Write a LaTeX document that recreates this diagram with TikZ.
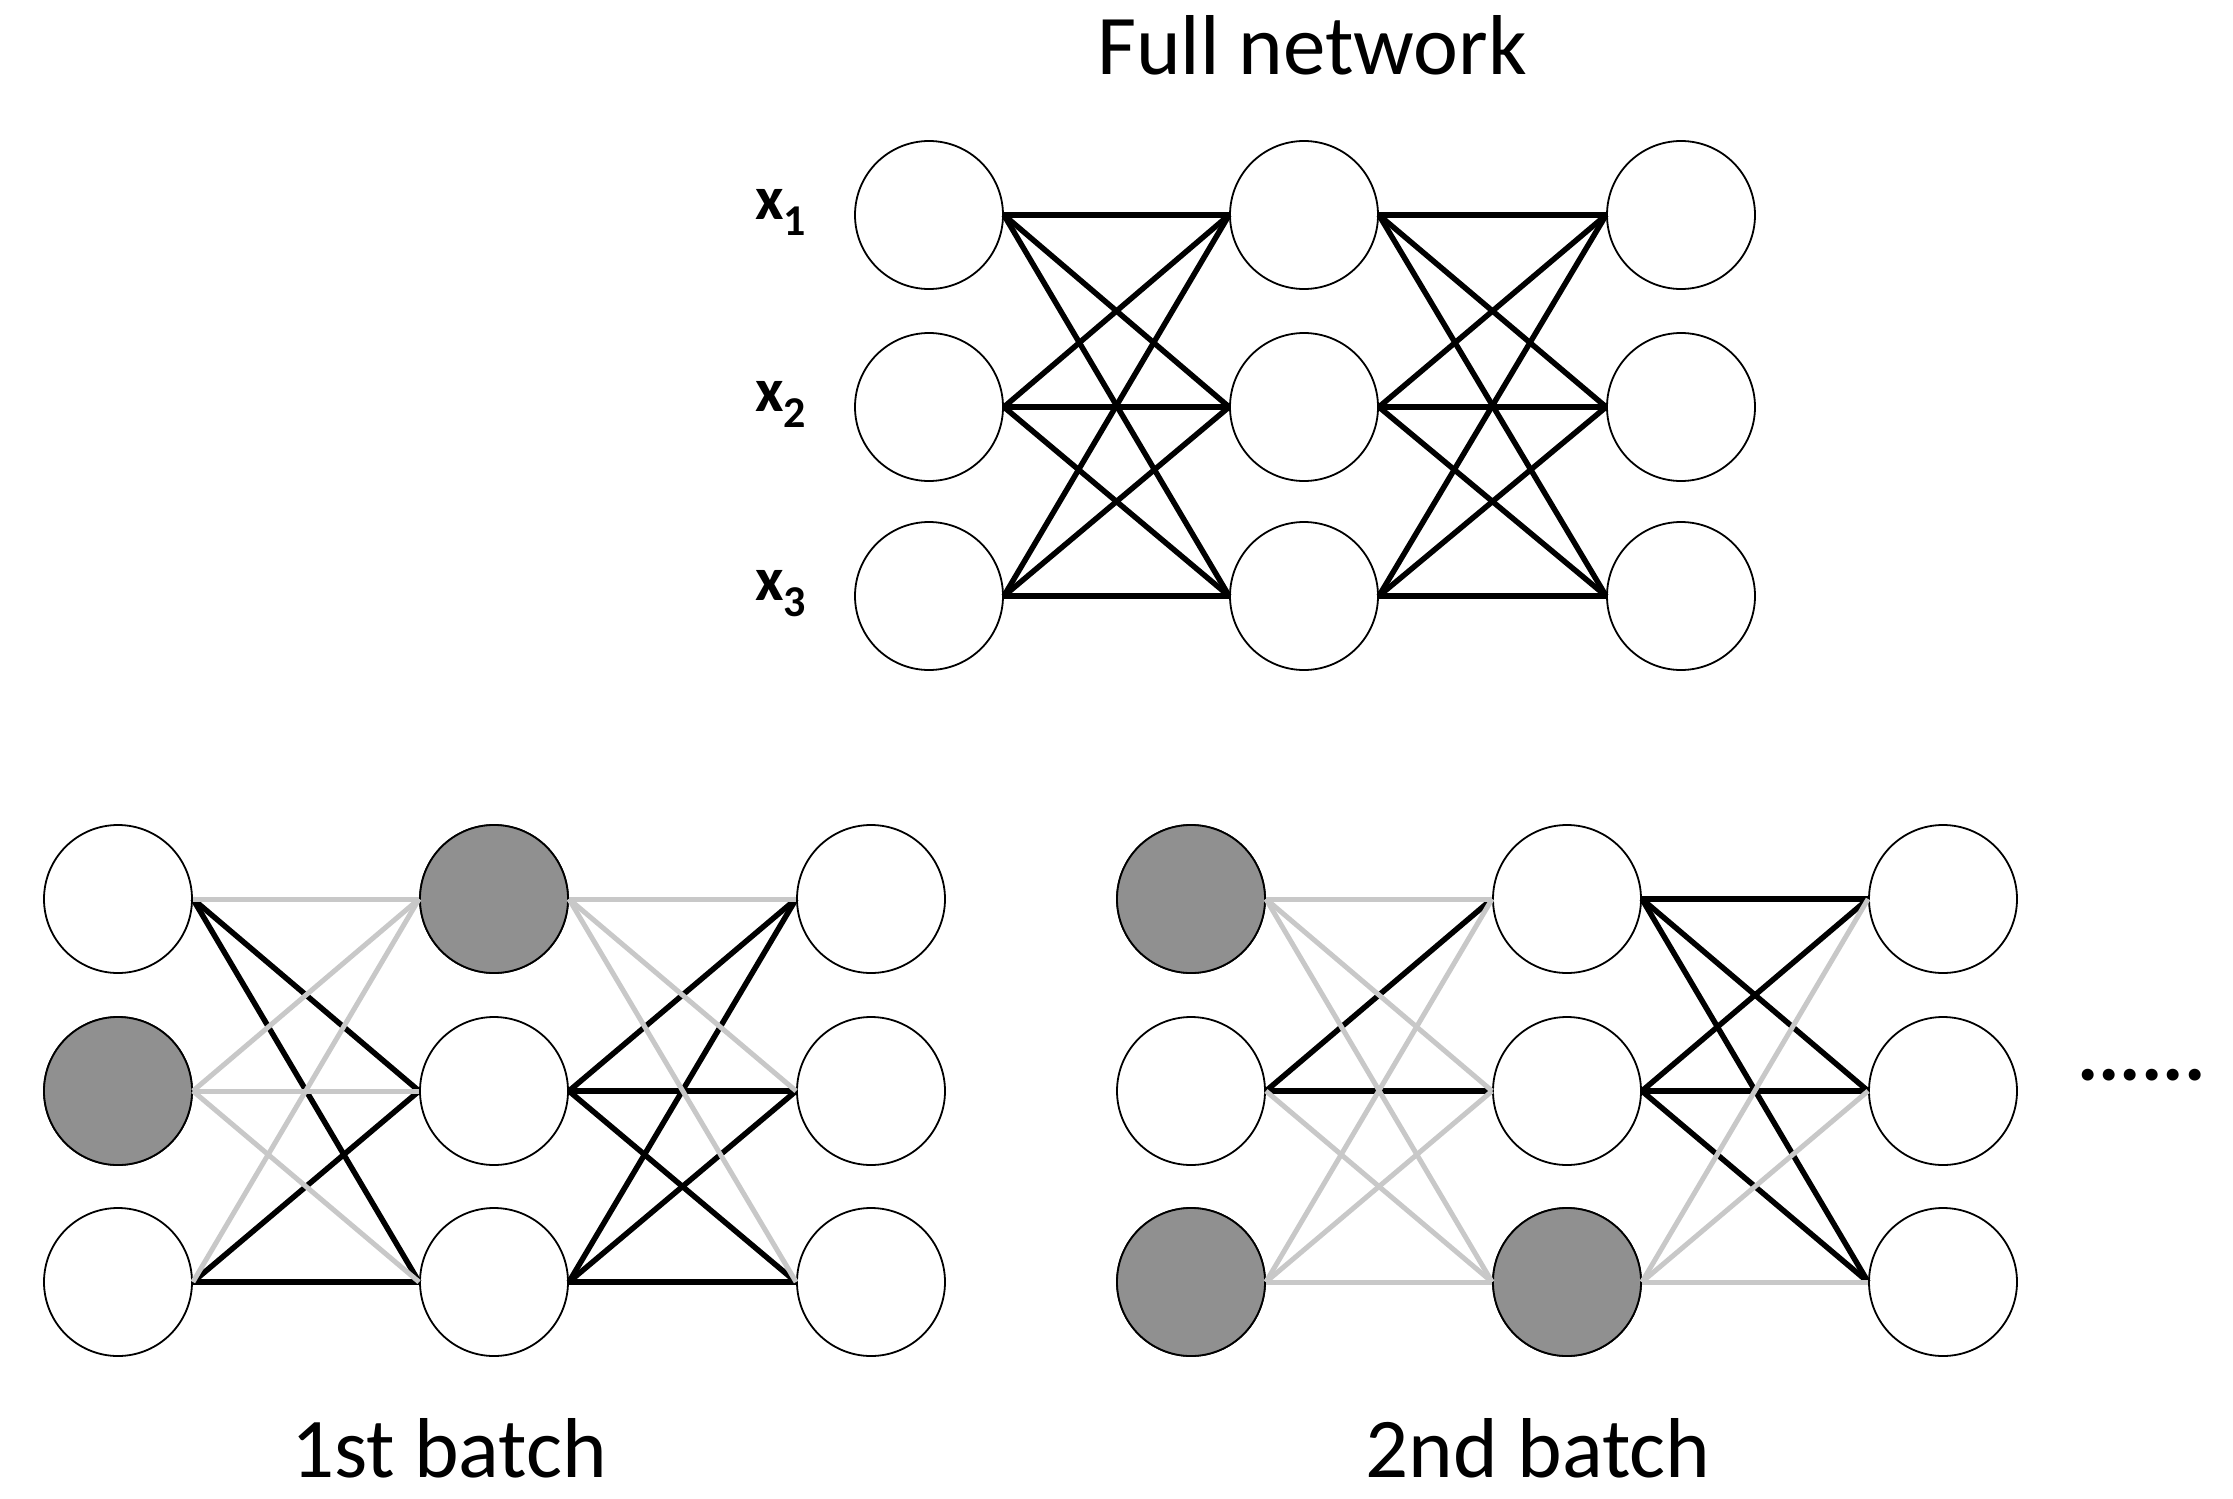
\documentclass[tikz,border=0pt]{standalone}
\usepackage{fontspec}
\setmainfont{Carlito}
\definecolor{dropfill}{RGB}{144,144,144}
\definecolor{edgegray}{RGB}{200,200,200}
\begin{document}
\begin{tikzpicture}[x=1pt,y=-1pt,
  neuron/.style={circle,draw=black,line width=1.8pt,fill=white,minimum size=148pt,inner sep=0pt},
  dropped/.style={neuron,fill=dropfill},
  live/.style={line width=5.5pt,black},
  dead/.style={line width=5pt,edgegray},
  title/.style={font=\fontsize{85}{90}\selectfont,anchor=base,inner sep=0pt},
  xlabel/.style={font=\fontsize{62}{64}\selectfont\bfseries,anchor=base west,inner sep=0pt}
]
\useasboundingbox (0,0) rectangle (2233,1499);

% ---------- Full network ----------
\foreach \c/\x in {1/929,2/1304,3/1681}
  \foreach \r/\y in {1/215,2/407,3/596}
    \node[neuron] (T\c\r) at (\x,\y) {};
\foreach \a in {1,2,3}
  \foreach \b in {1,2,3} {
    \draw[live] (T1\a.east) -- (T2\b.west);
    \draw[live] (T2\a.east) -- (T3\b.west);
  }
\node[xlabel] (lx1) at (755,219) {x\raisebox{-16pt}{\fontsize{44}{46}\selectfont 1}};
\node[xlabel] (lx2) at (755,411) {x\raisebox{-16pt}{\fontsize{44}{46}\selectfont 2}};
\node[xlabel] (lx3) at (755,600) {x\raisebox{-16pt}{\fontsize{44}{46}\selectfont 3}};
\node[title] (ttl) at (1312,74) {Full network};

% ---------- 1st batch ----------
\foreach \c/\x in {1/118,2/494,3/871}
  \foreach \r/\y in {1/899,2/1091,3/1282}
    \node[neuron] (A\c\r) at (\x,\y) {};
\node[dropped] at (A12) {};
\node[dropped] at (A21) {};
\foreach \s/\t in {A11/A22,A11/A23,A13/A22,A13/A23,
                   A22/A31,A22/A32,A22/A33,A23/A31,A23/A32,A23/A33}
  \draw[live] (\s.east) -- (\t.west);
\foreach \s/\t in {A11/A21,A12/A21,A13/A21,A12/A22,A12/A23,
                   A21/A31,A21/A32,A21/A33}
  \draw[dead] (\s.east) -- (\t.west);
\node[title] (b1) at (449,1477) {1st batch};

% ---------- 2nd batch ----------
\foreach \c/\x in {1/1191,2/1567,3/1943}
  \foreach \r/\y in {1/899,2/1091,3/1282}
    \node[neuron] (B\c\r) at (\x,\y) {};
\node[dropped] at (B11) {};
\node[dropped] at (B13) {};
\node[dropped] at (B23) {};
\foreach \s/\t in {B12/B21,B12/B22,
                   B21/B31,B21/B32,B21/B33,B22/B31,B22/B32,B22/B33}
  \draw[live] (\s.east) -- (\t.west);
\foreach \s/\t in {B11/B21,B11/B22,B11/B23,B12/B23,B13/B21,B13/B22,B13/B23,
                   B23/B31,B23/B32,B23/B33}
  \draw[dead] (\s.east) -- (\t.west);
\node[title] (b2) at (1538,1477) {2nd batch};

\node[font=\fontsize{80}{82}\selectfont\bfseries,anchor=base west,inner sep=0pt] (dots) at (2077,1080) {......};
\end{tikzpicture}
\end{document}
